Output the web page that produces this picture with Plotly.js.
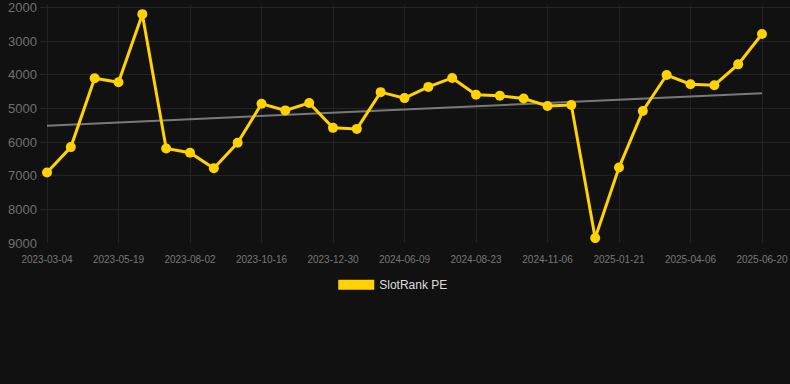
<!DOCTYPE html>
<html>
<head>
<meta charset="utf-8">
<script src="https://cdn.plot.ly/plotly-3.0.1.min.js"></script>
<style>
html,body{margin:0;padding:0;background:#111111;}
#chart{width:790px;height:384px;}
</style>
</head>
<body>
<div id="chart"></div>
<script>
// Dates (category labels); every third one is shown on the axis
const dates = [
  "2023-03-04","2023-03-29","2023-04-23","2023-05-19","2023-06-13","2023-07-08",
  "2023-08-02","2023-08-27","2023-09-21","2023-10-16","2023-11-10","2023-12-05",
  "2023-12-30","2024-02-22","2024-04-16","2024-06-09","2024-07-04","2024-07-29",
  "2024-08-23","2024-09-17","2024-10-12","2024-11-06","2024-12-01","2024-12-26",
  "2025-01-21","2025-02-15","2025-03-12","2025-04-06","2025-05-01","2025-05-26",
  "2025-06-20"
];
// SlotRank PE values (rank; lower is better, axis reversed)
const rankPE = [
  6906, 6150, 4103, 4221, 2198, 6189,
  6316, 6780, 6021, 4861, 5059, 4841,
  5578, 5608, 4516, 4693, 4360, 4094,
  4596, 4625, 4705, 4929, 4900, 8853,
  6758, 5077, 4006, 4280, 4310, 3690,
  2788
];
const seriesName = "SlotRank PE";
const yTicks = [2000, 3000, 4000, 5000, 6000, 7000, 8000, 9000];

// Linear trend (least squares over point index)
const n = rankPE.length;
let sx = 0, sy = 0, sxy = 0, sxx = 0;
rankPE.forEach((v, i) => { sx += i; sy += v; sxy += i * v; sxx += i * i; });
const slope = (n * sxy - sx * sy) / (n * sxx - sx * sx);
const intercept = (sy - slope * sx) / n;
const trend = rankPE.map((v, i) => intercept + slope * i);

const gold = "#FFD200";

const traces = [
  {
    x: dates, y: trend, type: "scatter", mode: "lines",
    line: {color: "rgba(140,140,140,0.85)", width: 2},
    hoverinfo: "skip", showlegend: false
  },
  {
    x: dates, y: rankPE, type: "scatter", mode: "lines+markers",
    line: {color: gold, width: 3},
    marker: {color: gold, size: 10},
    name: seriesName, showlegend: false
  },
  {
    x: [null], y: [null], type: "scatter", mode: "lines",
    line: {color: gold, width: 12},
    name: seriesName, showlegend: true
  }
];

const layout = {
  width: 790, height: 384,
  paper_bgcolor: "#111111", plot_bgcolor: "#111111",
  margin: {l: 40, r: 0, t: 5, b: 141},
  font: {family: "Arial, 'Liberation Sans', sans-serif", color: "#777777"},
  xaxis: {
    type: "category",
    range: [-0.294, 31.175],
    tickmode: "linear", tick0: 0, dtick: 3,
    showgrid: true, gridcolor: "#242424", gridwidth: 1,
    zeroline: false, showline: false,
    ticks: "", tickfont: {size: 10, color: "#777777"},
    ticklabelstandoff: 9,
    ticklabeloverflow: "allow",
    tickangle: 0
  },
  yaxis: {
    range: [9000, 1926],
    tickvals: yTicks,
    showgrid: true, gridcolor: "#242424", gridwidth: 1,
    zeroline: false, showline: false,
    ticks: "", tickfont: {size: 13, color: "#707070"},
    ticklabelstandoff: 2,
    ticklabeloverflow: "allow"
  },
  showlegend: true,
  legend: {
    orientation: "h", x: 0.471, xanchor: "center", y: -0.175, yanchor: "middle",
    itemwidth: 36,
    font: {size: 12, color: "#dddddd"}, bgcolor: "rgba(0,0,0,0)"
  }
};

Plotly.newPlot("chart", traces, layout, {displayModeBar: false, staticPlot: true});
</script>
</body>
</html>
